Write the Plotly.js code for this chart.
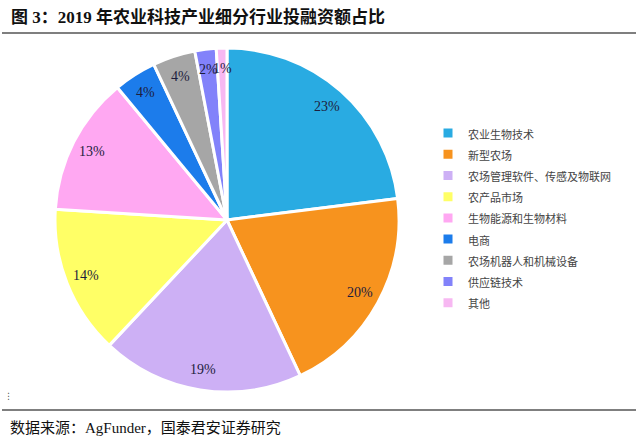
<!DOCTYPE html>
<html>
<head>
<meta charset="utf-8">
<script src="https://cdn.plot.ly/plotly-3.0.1.min.js"></script>
<style>html,body{margin:0;padding:0;background:#fff;}#chart{width:640px;height:442px;}</style>
</head>
<body>
<div id="chart"></div>
<script>
const categories = ["农业生物技术","新型农场","农场管理软件、传感及物联网","农产品市场","生物能源和生物材料","电商","农场机器人和机械设备","供应链技术","其他"];
const shares = [23, 20, 19, 14, 13, 4, 4, 2, 1];
const sliceColors = ["#29ABE2","#F7931E","#CDB0F5","#FFFF66","#FFA8F2","#1C7CEB","#A6A6A6","#8282FA","#F7B8F2"];

const W = 640, H = 442;
const px = x => x / W;
const py = y => 1 - y / H;

// pie placement (pixels)
const pieLeft = 55, pieRight = 399, pieTop = 48, pieBottom = 392;
const cx = (pieLeft + pieRight) / 2, cy = (pieTop + pieBottom) / 2;
const R = (pieRight - pieLeft) / 2;
const labelFrac = 0.88;

const legendLabels = categories.map(c => '<span style="font-size:11px">' + c + '</span>');

const data = [{
  type: "pie",
  labels: legendLabels,
  values: shares,
  sort: false,
  direction: "clockwise",
  rotation: 0,
  marker: {colors: sliceColors, line: {color: "#ffffff", width: 3}},
  textinfo: "none",
  hoverinfo: "none",
  domain: {x: [px(pieLeft), px(pieRight)], y: [py(pieBottom), py(pieTop)]}
}];

// value labels placed at each slice's mid-angle (derived from the data)
const total = shares.reduce((a, b) => a + b, 0);
let cum = 0;
const valueLabels = shares.map(v => {
  const mid = (cum + v / 2) / total * 2 * Math.PI;
  cum += v;
  const x = cx + labelFrac * R * Math.sin(mid);
  const y = cy - labelFrac * R * Math.cos(mid);
  return {text: v + "%", xref: "paper", yref: "paper", x: px(x), y: py(y),
    xanchor: "center", yanchor: "middle", showarrow: false,
    font: {family: "Liberation Serif, serif", size: 14, color: "#1d1d3d"}};
});

const layout = {
  width: W, height: H,
  margin: {l: 0, r: 0, t: 0, b: 0},
  paper_bgcolor: "#ffffff",
  showlegend: true,
  legend: {x: px(428), y: py(117.5), xanchor: "left", yanchor: "top",
    font: {family: "Noto Sans CJK SC, sans-serif", size: 14, color: "#444"},
    bgcolor: "rgba(0,0,0,0)"},
  shapes: [
    {type: "line", xref: "paper", yref: "paper", x0: px(2), x1: px(636), y0: py(33), y1: py(33), line: {color: "#555", width: 1.5}},
    {type: "line", xref: "paper", yref: "paper", x0: px(2), x1: px(636), y0: py(410), y1: py(410), line: {color: "#555", width: 1.5}}
  ],
  annotations: valueLabels.concat([
    {text: "<b>图 3：2019 年农业科技产业细分行业投融资额占比</b>", xref: "paper", yref: "paper", x: px(9), y: py(17), xanchor: "left", yanchor: "middle", showarrow: false,
      font: {family: "Liberation Serif, Noto Sans CJK SC, serif", size: 17, color: "#111"}},
    {text: "数据来源：AgFunder，国泰君安证券研究", xref: "paper", yref: "paper", x: px(8), y: py(428), xanchor: "left", yanchor: "middle", showarrow: false,
      font: {family: "Liberation Serif, Noto Sans CJK SC, serif", size: 15, color: "#111"}},
    {text: "⋮", xref: "paper", yref: "paper", x: px(8), y: py(396), xanchor: "center", yanchor: "middle", showarrow: false,
      font: {family: "DejaVu Sans", size: 9, color: "#555"}}
  ])
};

Plotly.newPlot("chart", data, layout, {staticPlot: true});
</script>
</body>
</html>
